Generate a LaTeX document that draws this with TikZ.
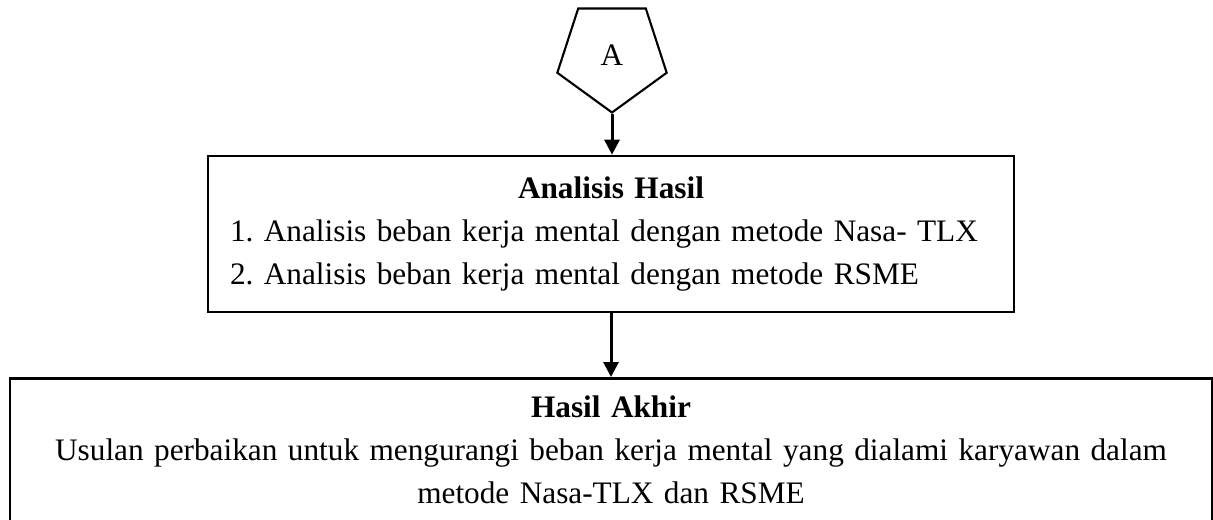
\documentclass[tikz,border=0pt]{standalone}
\usepackage{fontspec}
\setmainfont{Liberation Serif}
\usetikzlibrary{shapes.geometric,arrows.meta}
\frenchspacing
\begin{document}
\begin{tikzpicture}[>={Triangle[length=0.3cm,width=0.3cm]},
    kotak/.style={draw,line width=1.5pt},
    panah/.style={->,line width=1.7pt},
    font=\fontsize{17.8}{24.5}\selectfont]
    \clip (0,0) rectangle (24.26,-10.4);
    \node[draw,regular polygon,regular polygon sides=5,shape border rotate=180,minimum size=2.3cm,inner sep=0pt,line width=1.2pt] (A) at (12.24,-1.1) {A};
    \node[kotak,minimum width=16.12cm,minimum height=3.12cm,text width=15.24cm,inner xsep=0.44cm] (hasil) at (12.22,-4.68)
        {\centering\textbf{Analisis Hasil}\par\raggedright 1. Analisis beban kerja mental dengan metode Nasa- TLX\par 2. Analisis beban kerja mental dengan metode RSME\par};
    \node[kotak,anchor=north,minimum width=24.04cm,text width=23.4cm,align=center,inner ysep=0.35cm] (akhir) at (12.22,-7.54)
        {\textbf{Hasil Akhir}\\ Usulan perbaikan untuk mengurangi beban kerja mental yang dialami karyawan dalam\\ metode Nasa-TLX dan RSME};
    \draw[panah] (A.south) -- (A.south |- hasil.north);
    \draw[panah] (hasil.south) -- (hasil.south |- akhir.north);
\end{tikzpicture}
\end{document}
